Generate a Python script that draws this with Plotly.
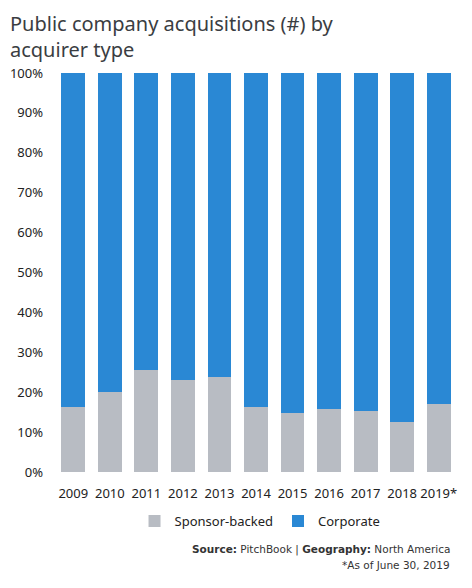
import plotly.graph_objects as go

years = ["2009", "2010", "2011", "2012", "2013", "2014", "2015", "2016", "2017", "2018", "2019*"]
sponsor_backed = [16.4, 20.1, 25.6, 23.1, 23.8, 16.4, 14.9, 15.8, 15.3, 12.6, 17.1]
corporate = [100 - v for v in sponsor_backed]

font = "'Noto Sans', sans-serif"

fig = go.Figure()
fig.add_trace(go.Bar(x=years, y=sponsor_backed, name="Sponsor-backed",
                     marker_color="#B8BCC3", marker_line_width=0))
fig.add_trace(go.Bar(x=years, y=corporate, name="Corporate",
                     marker_color="#2A88D4", marker_line_width=0))

# page body has an 8px margin, so the figure is 8px smaller and shifted
fig.update_layout(
    width=464, height=580,
    barmode="stack", bargap=0.35,
    plot_bgcolor="white", paper_bgcolor="white",
    margin=dict(l=47, r=15, t=65, b=116),
    font=dict(family=font, color="#222222", size=13),
    xaxis=dict(tickfont=dict(size=13), showline=False, ticks="",
               automargin=False, ticklabelstandoff=12),
    yaxis=dict(range=[0, 100], dtick=10, ticksuffix="%", showgrid=False,
               zeroline=False, tickfont=dict(size=13), ticklabelstandoff=11,
               automargin=False),
    legend=dict(orientation="h", x=0.51, xanchor="center", y=-0.123, yanchor="middle",
                font=dict(size=13), traceorder="normal"),
    showlegend=True,
)

fig.add_annotation(text="Public company acquisitions (#) by<br>acquirer type",
                   xref="paper", yref="paper", x=-0.117, y=1.162, xanchor="left", yanchor="top",
                   align="left", showarrow=False,
                   font=dict(size=20, color="#3a3d42", family=font))
fig.add_annotation(text="<b>Source:</b> PitchBook | <b>Geography:</b> North America",
                   xref="paper", yref="paper", x=0.9876, y=-0.195, xanchor="right", yanchor="middle",
                   showarrow=False, font=dict(size=10.5, color="#333333", family="'DejaVu Sans', sans-serif"))
fig.add_annotation(text="*As of June 30, 2019",
                   xref="paper", yref="paper", x=0.9876, y=-0.233, xanchor="right", yanchor="middle",
                   showarrow=False, font=dict(size=10.5, color="#333333", family="'DejaVu Sans', sans-serif"))

fig.write_html("out.html")
